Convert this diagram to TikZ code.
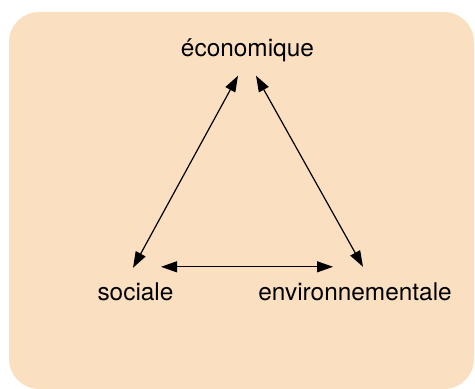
\documentclass[tikz,border=0pt]{standalone}
\usepackage{fontspec}
\setmainfont{TeX Gyre Heros}
\usepackage{xcolor}
\usetikzlibrary{arrows.meta,positioning}
\definecolor{peach}{RGB}{250,223,192}
\tikzset{pillar/.style={inner sep=0pt,anchor=base},
  link/.style={<->,line width=0.6pt}}
\begin{document}
\begin{tikzpicture}[x=0.5pt,y=-0.5pt,font=\fontsize{12.2}{14}\selectfont,>={Triangle[length=8pt,width=5.5pt]}]
\useasboundingbox (0,0) rectangle (475,389);
\fill[peach,rounded corners=15pt] (9,12) rectangle (474,389);
\node[pillar] (eco) at (247.5,57) {économique};
\node[pillar] (soc) at (135.5,300) {sociale};
\node[pillar] (env) at (355,300) {environnementale};
\draw[link] ([xshift=-4.75pt,yshift=-6.5pt]eco.south) -- ([xshift=-1.25pt,yshift=7pt]soc.north);
\draw[link] ([xshift=4.25pt,yshift=-6.5pt]eco.south) -- ([xshift=4pt,yshift=7.5pt]env.north);
\draw[link] ([xshift=12.75pt,yshift=7.5pt]soc.north) -- ([xshift=-11pt,yshift=7.5pt]env.north);
\end{tikzpicture}
\end{document}
